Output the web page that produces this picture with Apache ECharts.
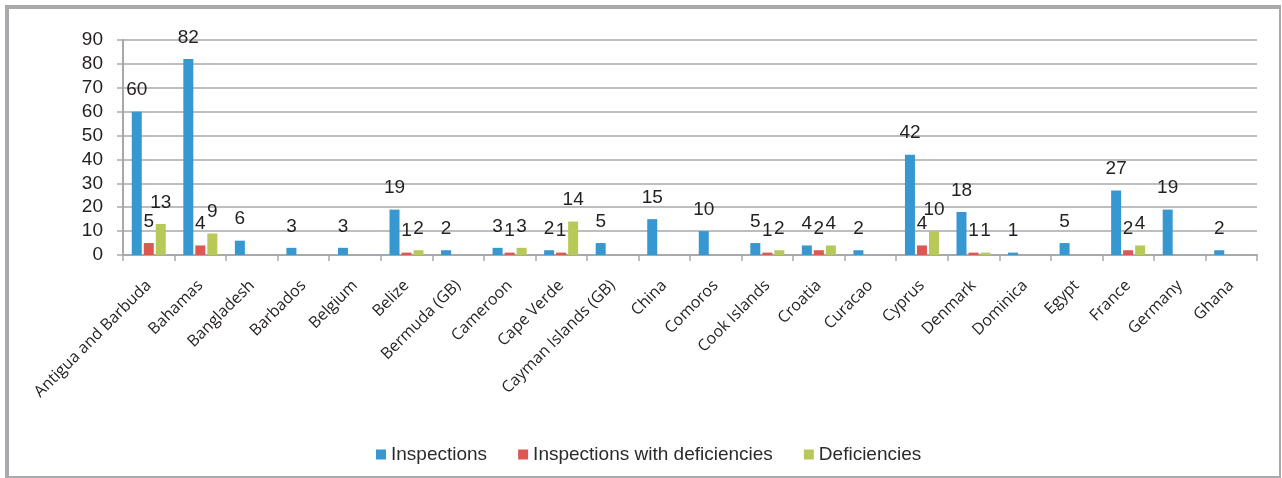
<!DOCTYPE html>
<html>
<head>
<meta charset="utf-8">
<script src="https://cdn.jsdelivr.net/npm/echarts@6/dist/echarts.min.js"></script>
<style>
  html, body { margin: 0; padding: 0; background: #fff; }
  #chart { position: absolute; left: 0; top: 0; width: 1282px; height: 478px; }
  .frame {
    position: absolute; left: 5px; top: 5px; width: 1270px; height: 467px;
    border-style: solid; border-color: #a7a9ac;
    border-width: 4px 2px 3px 4px;
    pointer-events: none;
  }
</style>
</head>
<body>
<div id="chart"></div>
<div class="frame"></div>
<script>
const countries = ['Antigua and Barbuda', 'Bahamas', 'Bangladesh', 'Barbados', 'Belgium', 'Belize',
  'Bermuda (GB)', 'Cameroon', 'Cape Verde', 'Cayman Islands (GB)', 'China', 'Comoros',
  'Cook Islands', 'Croatia', 'Curacao', 'Cyprus', 'Denmark', 'Dominica', 'Egypt', 'France',
  'Germany', 'Ghana']
const inspections = [60, 82, 6, 3, 3, 19, 2, 3, 2, 5, 15, 10, 5, 4, 2, 42, 18, 1, 5, 27, 19, 2]
const inspectionsWithDeficiencies = [5, 4, 0, 0, 0, 1, 0, 1, 1, 0, 0, 0, 1, 2, 0, 4, 1, 0, 0, 2, 0, 0]
const deficiencies = [13, 9, 0, 0, 0, 2, 0, 3, 14, 0, 0, 0, 2, 4, 0, 10, 1, 0, 0, 4, 0, 0]
const yTicks = [0, 10, 20, 30, 40, 50, 60, 70, 80, 90]

const chart = echarts.init(document.getElementById('chart'))

const labelStyle = {
  show: true,
  position: 'top',
  distance: 12,
  color: '#231f20',
  fontSize: 19,
  fontFamily: 'Liberation Sans, Arial, sans-serif',
  formatter: p => (p.value ? p.value : '')
}

const makeSeries = (name, data, color) => ({
  name,
  type: 'bar',
  data,
  barWidth: 10,
  barGap: '20%',
  itemStyle: { color },
  label: labelStyle,
  emphasis: { disabled: true }
})

chart.setOption({
  animation: false,
  grid: { left: 123, right: 25, top: 40, bottom: 223 },
  legend: {
    bottom: 9,
    left: 371,
    itemWidth: 10,
    itemHeight: 10,
    itemGap: 31,
    icon: 'rect',
    textStyle: { color: '#2b2b2b', fontSize: 19, fontFamily: 'Liberation Sans, Arial, sans-serif' }
  },
  xAxis: {
    type: 'category',
    data: countries,
    axisLine: { lineStyle: { color: '#a7a9ac', width: 2 } },
    axisTick: { show: true, length: 6, lineStyle: { color: '#a7a9ac', width: 1.5 } },
    axisLabel: {
      interval: 0,
      rotate: 45,
      margin: 28,
      color: '#231f20',
      fontSize: 16,
      fontFamily: 'Open Sans, sans-serif'
    }
  },
  yAxis: {
    type: 'value',
    min: yTicks[0],
    max: yTicks[yTicks.length - 1],
    interval: 10,
    axisLine: { show: true, lineStyle: { color: '#a7a9ac', width: 2 } },
    axisTick: { show: true, length: 6, lineStyle: { color: '#a7a9ac', width: 1.5 } },
    splitLine: { lineStyle: { color: '#a7a9ac', width: 1.5 } },
    axisLabel: {
      margin: 20,
      color: '#231f20',
      fontSize: 19,
      fontFamily: 'Liberation Sans, Arial, sans-serif'
    }
  },
  series: [
    makeSeries('Inspections', inspections, '#3797d0'),
    makeSeries('Inspections with deficiencies', inspectionsWithDeficiencies, '#de5751'),
    makeSeries('Deficiencies', deficiencies, '#b8c859')
  ]
})
</script>
</body>
</html>
